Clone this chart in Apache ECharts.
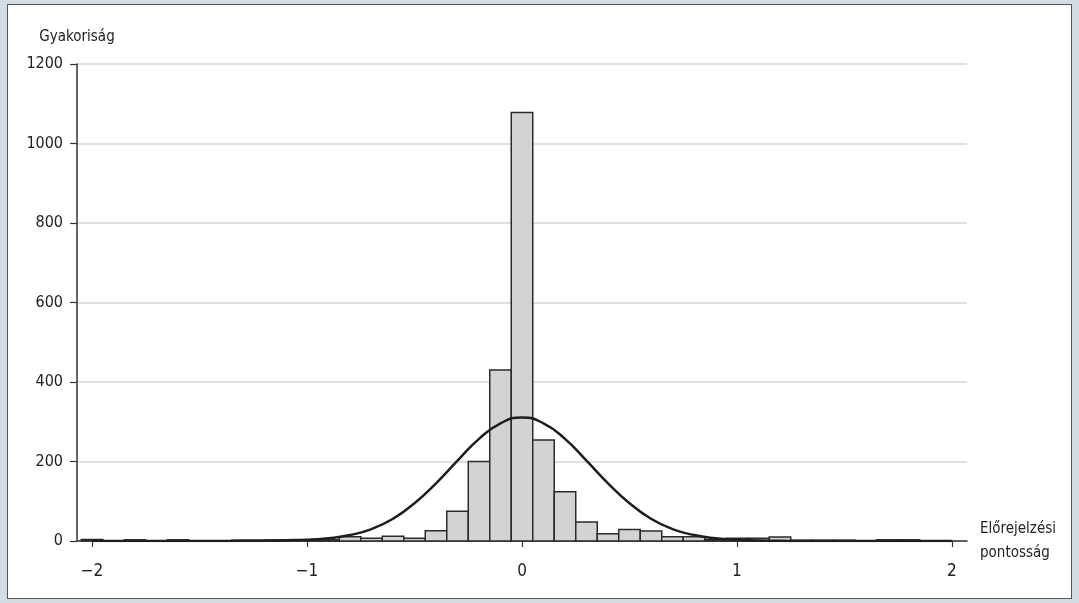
<!DOCTYPE html>
<html><head><meta charset="utf-8">
<script src="https://cdn.jsdelivr.net/npm/echarts@6/dist/echarts.min.js"></script>
<style>
html,body{margin:0;padding:0;background:#d4dce4;width:1079px;height:603px;overflow:hidden}
#panel{position:absolute;left:7px;top:4px;width:1063px;height:593px;background:#fff;border:1.5px solid #555;}
#chart{position:absolute;left:0;top:0;width:1079px;height:603px}
</style></head><body><div id="panel"></div><div id="chart"></div>
<script>
// histogram bins (centre of bin) and their counts
const binCenters = [-2.0,-1.9,-1.8,-1.7,-1.6,-1.5,-1.4,-1.3,-1.2,-1.1,-1.0,-0.9,-0.8,-0.7,-0.6,-0.5,-0.4,-0.3,-0.2,-0.1,0.0,0.1,0.2,0.3,0.4,0.5,0.6,0.7,0.8,0.9,1.0,1.1,1.2,1.3,1.4,1.5,1.6,1.7,1.8,1.9,2.0];
const binCounts  = [4,0,3,0,3,0,0,2,2,2,2,3,11,7,12,7,26,75,200,430,1078,254,124,48,18,29,25,11,11,4,7,7,10,2,2,2,0,3,3,0,0];
const binWidth = 0.1;
// fitted normal curve
const curveX = [-2.0,-1.6,-1.4,-1.3,-1.2,-1.1,-1.0,-0.9,-0.8,-0.7,-0.6,-0.5,-0.4,-0.3,-0.2,-0.1,0.0,0.1,0.2,0.3,0.4,0.5,0.6,0.7,0.8,0.9,1.0,1.1,1.2,1.3,1.4,1.6,2.0];
const curveY = [0,0,0,0.5,1,2,3,7,15,30,56,95,145,202,257,296,311,296,257,202,145,95,56,30,15,7,3,1,0.5,0,0,0,0];
const xTickValues = [-2,-1,0,1,2];
const xTickLabels = ['\u22122','\u22121','0','1','2'];
const yAxisTitle = 'Gyakoriság';
const xAxisTitle = 'Előrejelzési\npontosság';

const FONT = "'DejaVu Sans Condensed','Liberation Sans Narrow',sans-serif";
const chart = echarts.init(document.getElementById('chart'), null, {renderer:'canvas'});
chart.setOption({
  backgroundColor: 'transparent',
  animation: false,
  grid: {left: 77, right: 112, top: 64, bottom: 62, containLabel: false},
  xAxis: {
    type: 'value', min: -2.07, max: 2.07,
    name: xAxisTitle, nameLocation: 'end', nameGap: 13,
    nameTextStyle: {fontFamily: FONT, fontSize: 15, color: '#222', align: 'left', verticalAlign: 'middle', lineHeight: 24, padding: [18,0,0,0]},
    axisLine: {show: true, onZero: false, lineStyle: {color: '#333', width: 1.5}},
    axisTick: {show: true, length: 6, customValues: xTickValues, lineStyle: {color: '#333', width: 1.2}},
    axisLabel: {show: true, customValues: xTickValues, margin: 22, fontFamily: FONT, fontSize: 17, color: '#222',
      formatter: v => xTickLabels[xTickValues.indexOf(Math.round(v))]},
    splitLine: {show: false}
  },
  yAxis: {
    type: 'value', min: 0, max: 1200, interval: 200,
    name: yAxisTitle, nameLocation: 'end', nameGap: 19,
    nameTextStyle: {fontFamily: FONT, fontSize: 15, color: '#222', align: 'center'},
    axisLine: {show: true, onZero: false, lineStyle: {color: '#333', width: 1.5}},
    axisTick: {show: true, length: 7, lineStyle: {color: '#333', width: 1.2}},
    axisLabel: {margin: 14, fontFamily: FONT, fontSize: 16, color: '#222', formatter: v => String(v)},
    splitLine: {show: true, lineStyle: {color: '#d6d6d6', width: 1.5}}
  },
  series: [
    {
      type: 'custom', z: 2,
      data: binCenters.map((c, i) => [c, binCounts[i]]),
      encode: {x: 0, y: 1},
      renderItem: function (params, api) {
        const c = api.value(0), v = api.value(1);
        if (!v) return null;
        const p0 = api.coord([c - binWidth / 2, v]);
        const p1 = api.coord([c + binWidth / 2, 0]);
        return {type: 'rect', shape: {x: p0[0], y: p0[1], width: p1[0] - p0[0], height: p1[1] - p0[1]},
          style: {fill: '#d3d3d5', stroke: '#2b2b2b', lineWidth: 1.5}};
      }
    },
    {
      type: 'line', z: 3, smooth: 0.5, showSymbol: false, symbol: 'none',
      data: curveX.map((x, i) => [x, curveY[i]]),
      lineStyle: {color: '#1e1e1e', width: 2.5}
    }
  ]
});
</script></body></html>
